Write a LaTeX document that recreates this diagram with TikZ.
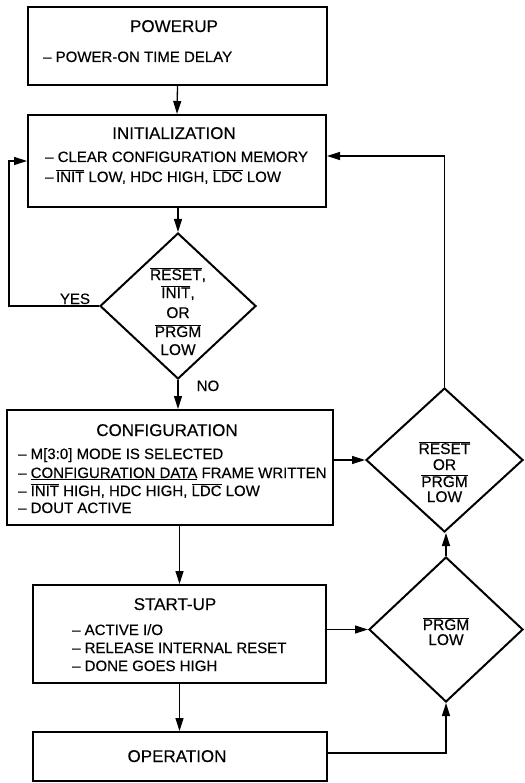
\documentclass[tikz,border=0pt]{standalone}
\usepackage{fontspec}
\setmainfont{Liberation Sans}
\newfontfamily\dfont{Liberation Sans}[FakeBold=0.3]
\usetikzlibrary{arrows.meta,shapes.geometric}
\newcommand{\ovl}[1]{$\overline{\mbox{#1}}$}
\begin{document}
\begin{tikzpicture}[x=1pt,y=-1pt,
  box/.style={draw, line width=2pt, inner sep=0pt},
  dia/.style={draw, diamond, line width=2pt, inner sep=0pt},
  conn/.style={line width=1.3pt, -{Triangle[length=13pt,width=8pt]}},
  txt/.style={inner sep=0pt, anchor=base west, font=\dfont\fontsize{15}{18}\selectfont},
  ttl/.style={inner sep=0pt, anchor=base, font=\dfont\fontsize{17}{20}\selectfont},
  ctxt/.style={inner sep=0pt, anchor=base, font=\dfont\fontsize{15.5}{18}\selectfont}]
\useasboundingbox (0,0) rectangle (524,783);

% boxes
\node[box, minimum width=299pt, minimum height=78pt] (pw) at (177.5,46) {};
\node[box, minimum width=298pt, minimum height=92pt] (init) at (177,161) {};
\node[dia, minimum width=156pt, minimum height=146pt] (d1) at (178,306) {};
\node[box, minimum width=326pt, minimum height=115pt] (cfg) at (170,467.5) {};
\node[dia, minimum width=157pt, minimum height=144pt] (d2) at (444.5,460) {};
\node[box, minimum width=293pt, minimum height=98pt] (su) at (179.5,634) {};
\node[dia, minimum width=154pt, minimum height=145pt] (d3) at (446,629.5) {};
\node[box, minimum width=294pt, minimum height=49pt] (op) at (180,756.5) {};

% texts
\node[ttl] (t1) at (174,32) {POWERUP};
\node[txt] (t2) at (43,62) {– POWER-ON TIME DELAY};
\node[ttl] (t3) at (174,139) {INITIALIZATION};
\node[txt] (t4) at (45,162) {– CLEAR CONFIGURATION MEMORY};
\node[txt] (t5) at (45,182) {–\,\ovl{INIT} LOW, HDC HIGH, \ovl{LDC} LOW};

\node[ctxt] (d1a) at (178,280) {\ovl{RESET},};
\node[ctxt] (d1b) at (178,298) {\ovl{INIT},};
\node[ctxt] (d1c) at (178,318) {OR};
\node[ctxt] (d1d) at (178,337) {\ovl{PRGM}};
\node[ctxt] (d1e) at (178,355) {LOW};
\node[txt, anchor=base] (yes) at (75,304) {YES};
\node[txt, anchor=base] (no) at (208,391) {NO};

\node[ttl] (t6) at (167,436) {CONFIGURATION};
\node[txt] (t7) at (18,459) {– M[3:0] MODE IS SELECTED};
\node[txt] (t8) at (18,478) {– \underline{CONFIGURATION DATA} FRAME WRITTEN};
\node[txt] (t9) at (18,496) {– \ovl{INIT} HIGH, HDC HIGH, \ovl{LDC} LOW};
\node[txt] (t10) at (18,513) {– DOUT ACTIVE};

\node[ctxt] (d2a) at (444.5,454) {\ovl{RESET}};
\node[ctxt] (d2b) at (444.5,470) {OR};
\node[ctxt] (d2c) at (444.5,487) {\ovl{PRGM}};
\node[ctxt] (d2d) at (444.5,502) {LOW};

\node[ttl] (t11) at (175,610) {START-UP};
\node[txt] (t12) at (72,635) {– ACTIVE I/O};
\node[txt] (t13) at (72,653) {– RELEASE INTERNAL RESET};
\node[txt] (t14) at (72,671) {– DONE GOES HIGH};

\node[ctxt] (d3a) at (446,630) {\ovl{PRGM}};
\node[ctxt] (d3b) at (446,645) {LOW};

\node[ttl] (t15) at (177,762) {OPERATION};

% connectors
\draw[conn] (pw.south) -- (init.north);
\draw[conn] (init.south -| d1.north) -- (d1.north);
\draw[conn] (d1.south) -- (d1.south |- cfg.north);
\draw[conn] (cfg.south -| su.north) -- (su.north);
\draw[conn] (su.south) -- (su.south |- op.north);
\draw[conn] (su.east |- d3.west) -- (d3.west);
\draw[conn] (cfg.east |- d2.west) -- (d2.west);
\draw[conn] ([yshift=3.5pt]op.east) -| (d3.south);
\draw[conn] (d3.north) -- (d3.north |- d2.south);
\draw[conn] (d2.north) |- ([yshift=5pt]init.east);
\draw[conn] (d1.west) -- ++(-90,0) |- (init.west);
\end{tikzpicture}
\end{document}
